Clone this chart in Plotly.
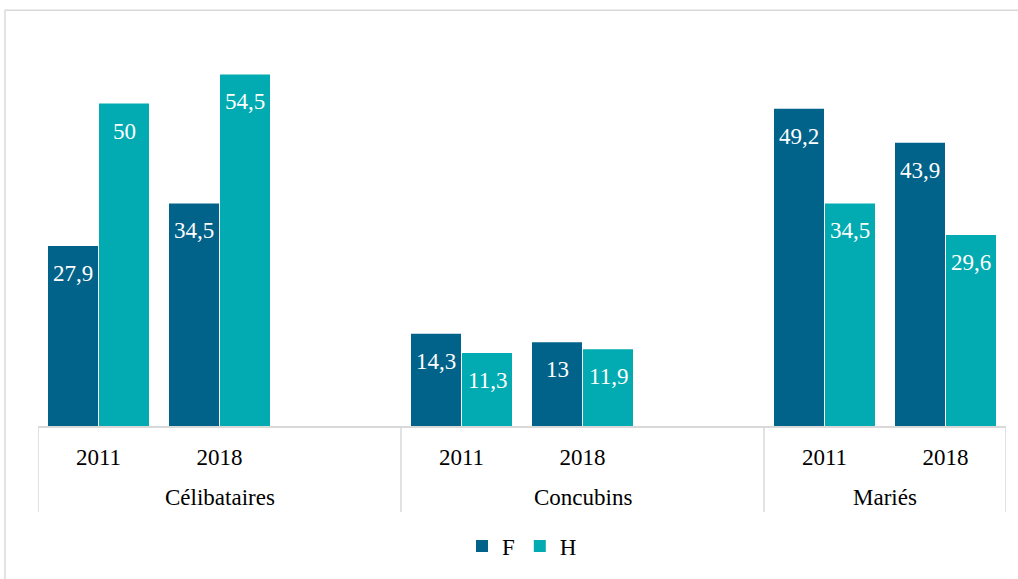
import plotly.graph_objects as go

group_names = ["Célibataires", "Concubins", "Mariés"]
groups = ["Célibataires", "Célibataires", "Célibataires",
          "Concubins", "Concubins", "Concubins",
          "Mariés", "Mariés"]
years = ["2011", "2018", "", "2011", "2018", "", "2011", "2018"]
f_values = [27.9, 34.5, None, 14.3, 13.0, None, 49.2, 43.9]
h_values = [50.0, 54.5, None, 11.3, 11.9, None, 34.5, 29.6]

F_COLOR = "#01628A"
H_COLOR = "#01ABB1"
GRID = "#D9D9D9"
FONT = "Liberation Serif"
FS = 23

xpos = list(range(len(years)))


def fmt(v):
    return f"{v:g}".replace(".", ",")


fig = go.Figure()
for name, vals, col in [("F", f_values, F_COLOR), ("H", h_values, H_COLOR)]:
    fig.add_trace(go.Bar(
        name=name, x=xpos, y=vals,
        marker=dict(color=col, line=dict(width=0)),
        hoverinfo="skip",
    ))

annotations = []
# value labels inside the top of each bar
for vals, shift in [(f_values, -25.5), (h_values, 25.5)]:
    for i, v in enumerate(vals):
        if v is None:
            continue
        annotations.append(dict(
            x=xpos[i], y=v, xref="x", yref="y", text=fmt(v),
            showarrow=False, xshift=shift, yshift=-27.5, yanchor="middle",
            font=dict(family=FONT, size=FS, color="white"),
        ))

# group labels and dividers
shapes = []
start = 0
bounds = [-0.5]
for g in group_names:
    n = groups.count(g)
    center = start + (n - 1) / 2
    annotations.append(dict(
        x=center, y=-0.185, xref="x", yref="paper", text=g,
        showarrow=False, yanchor="middle",
        font=dict(family=FONT, size=FS, color="black"),
    ))
    start += n
    bounds.append(start - 0.5)
for b in bounds:
    shapes.append(dict(type="line", xref="x", yref="paper", x0=b, x1=b,
                       y0=0, y1=-0.222, line=dict(color=GRID, width=1.5)))

# chart-area border
shapes.append(dict(type="rect", xref="paper", yref="paper",
                   x0=-0.0341, x1=1.03, y0=-0.42, y1=1.074,
                   line=dict(color=GRID, width=1.5), fillcolor="rgba(0,0,0,0)",
                   layer="below"))

tickvals = [p for p, y in zip(xpos, years) if y]
ticktext = [y for y in years if y]

fig.update_layout(
    width=1018, height=579,
    margin=dict(l=38, r=12, t=39, b=149),
    paper_bgcolor="white", plot_bgcolor="white",
    barmode="group", bargap=0.157, bargroupgap=0.02,
    font=dict(family=FONT, size=FS, color="#000000"),
    showlegend=True,
    legend=dict(orientation="h", x=0.5, xanchor="center", y=-0.31,
                yanchor="middle", font=dict(family=FONT, size=FS),
                itemwidth=30, traceorder="normal"),
    xaxis=dict(range=[-0.5, len(years) - 0.5], showline=True, linecolor=GRID,
               linewidth=1.5, showgrid=False, zeroline=False,
               tickmode="array", tickvals=tickvals, ticktext=ticktext,
               ticks="outside", ticklen=10, tickcolor="rgba(0,0,0,0)",
               tickfont=dict(family=FONT, size=FS, color="black"),
               fixedrange=True),
    yaxis=dict(range=[0, 60], visible=False, showgrid=False, fixedrange=True),
    annotations=annotations,
    shapes=shapes,
)

fig.write_html("out.html", config={"displayModeBar": False},
               post_script="document.body.style.margin='0';")
